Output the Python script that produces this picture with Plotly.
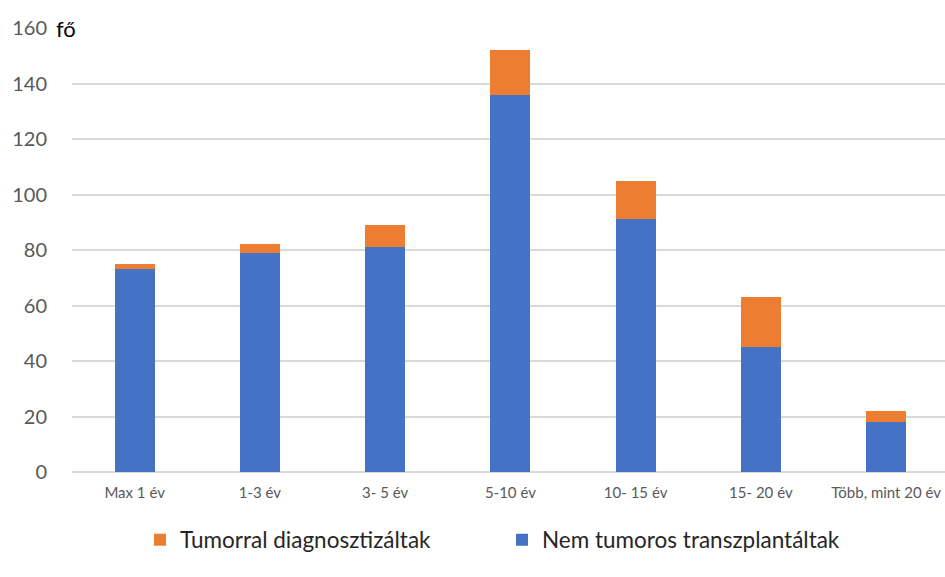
import plotly.graph_objects as go

categories = ["Max 1 év", "1-3 év", "3- 5 év", "5-10 év", "10- 15 év", "15- 20 év", "Több, mint 20 év"]
nem_tumoros = [73, 79, 81, 136, 91, 45, 18]
tumorral = [2, 3, 8, 16, 14, 18, 4]
y_ticks = [0, 20, 40, 60, 80, 100, 120, 140, 160]

BLUE = "#4472C4"
ORANGE = "#ED7D31"
FONT = "Lato, 'Open Sans', sans-serif"

W, H = 945, 577
ML, MR, MT, MB = 72, 0, 28, 105
plot_w = W - ML - MR
plot_h = H - MT - MB

fig = go.Figure()
fig.add_trace(go.Bar(
    x=categories, y=nem_tumoros, name="Nem tumoros transzplantáltak",
    marker=dict(color=BLUE, line=dict(width=0)), width=0.32,
))
fig.add_trace(go.Bar(
    x=categories, y=tumorral, name="Tumorral diagnosztizáltak",
    marker=dict(color=ORANGE, line=dict(width=0)), width=0.32,
))

fig.update_layout(
    width=W, height=H,
    margin=dict(l=ML, r=MR, t=MT, b=MB),
    barmode="stack",
    plot_bgcolor="white", paper_bgcolor="white",
    font=dict(family=FONT, color="#595959"),
    showlegend=True,
    legend=dict(
        orientation="h", traceorder="reversed",
        x=(140 - ML) / plot_w, xanchor="left",
        y=(MT + plot_h - 540) / plot_h, yanchor="middle",
        font=dict(size=22.5, color="#262626", family=FONT),
        entrywidth=317, entrywidthmode="pixels",
        bgcolor="rgba(0,0,0,0)",
    ),
    xaxis=dict(
        range=[-0.5, 6.47], showgrid=False, zeroline=False,
        showline=False, ticks="",
        tickfont=dict(size=15, color="#595959"),
        ticklabelstandoff=10,
    ),
    yaxis=dict(
        range=[0, 160], tickvals=y_ticks,
        ticktext=[str(v) for v in y_ticks],
        showgrid=True, gridcolor="#D9D9D9", gridwidth=1.5,
        zeroline=True, zerolinecolor="#D9D9D9", zerolinewidth=1.5,
        showline=False, ticks="",
        tickfont=dict(size=20, color="#595959"),
        ticklabelstandoff=24,
    ),
)

# unit label next to the top tick
fig.add_annotation(
    xref="paper", yref="y", x=(55 - ML) / plot_w, y=160,
    xanchor="left", yanchor="middle",
    text="fő", showarrow=False, align="left",
    font=dict(size=22, color="#000000", family=FONT),
    bgcolor="white", width=48, borderpad=0,
)

fig.write_html("out.html")
